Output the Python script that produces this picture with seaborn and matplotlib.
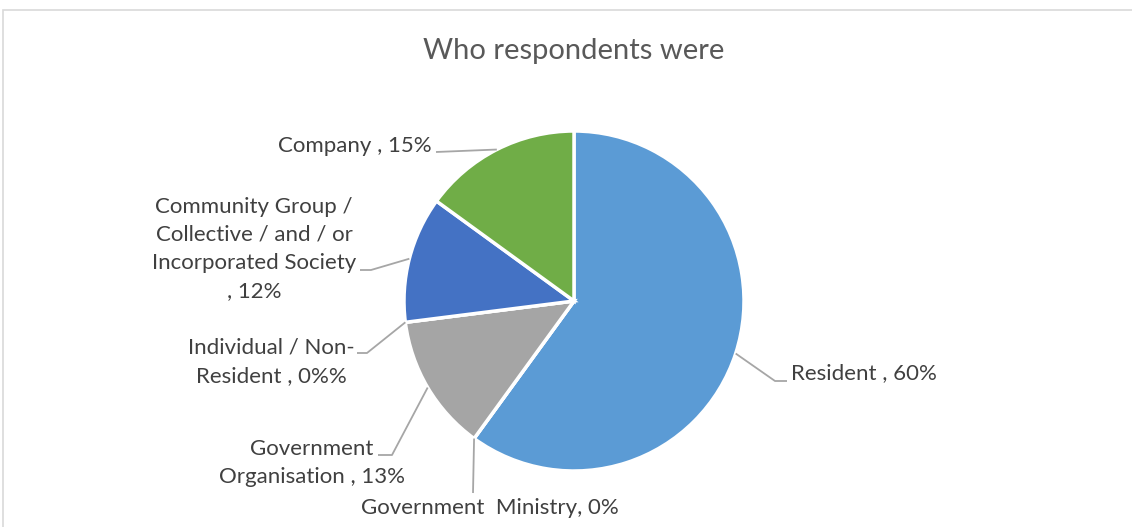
import numpy as np
import matplotlib
matplotlib.use("Agg")
import matplotlib.pyplot as plt
import seaborn as sns
from matplotlib.patches import Rectangle

# ---- data ----
categories = ["Resident", "Government  Ministry", "Government Organisation",
              "Individual / Non-Resident",
              "Community Group / Collective / and / or Incorporated Society",
              "Company"]
values = [60, 0, 13, 0, 12, 15]
label_texts = ["Resident , 60%", "Government  Ministry, 0%",
               "Government\nOrganisation , 13%", "Individual / Non-\nResident , 0%%",
               "Community Group /\nCollective / and / or\nIncorporated Society\n, 12%",
               "Company , 15%"]
colors = ["#5B9BD5", "#ED7D31", "#A5A5A5", "#FFC000", "#4472C4", "#70AD47"]
title = "Who respondents were"

sns.set_theme(style="white")
FONT = ["Lato", "DejaVu Sans"]
plt.rcParams["font.family"] = FONT

W, H = 1132, 527
fig = plt.figure(figsize=(W / 100, H / 100), dpi=100)
ax = fig.add_axes([0, 0, 1, 1])
ax.set_xlim(0, W)
ax.set_ylim(0, H)
ax.set_aspect("equal")
ax.axis("off")

def Y(y):
    return H - y

# chart border
fig.patches.append(Rectangle((3 / W, -0.1), 1.2, (H - 10) / H + 0.1,
                             transform=fig.transFigure, fill=False,
                             edgecolor="#D9D9D9", linewidth=1.2))

cx, cy, R = 574, 301, 170
wedges, _ = ax.pie(values, colors=colors, startangle=90, counterclock=False,
                   center=(cx, Y(cy)), radius=R, frame=True,
                   wedgeprops=dict(edgecolor="white", linewidth=2.5))
ax.set_xlim(0, W)
ax.set_ylim(0, H)
ax.axis("off")

# label layout: (text x, text y, ha, leader points after wedge anchor)
layout = [
    (791, 373, "left", [(775, 381), (787, 381)]),
    (490, 508, "center", [(473, 493)]),
    (312, 463, "center", [(392, 455), (378, 455)]),
    (271, 362, "center", [(367, 353), (357, 353)]),
    (254, 249, "center", [(371, 270), (360, 270)]),
    (432, 146, "right", [(436, 152)]),
]

line_col = "#A6A6A6"
for w, txt, (tx, ty, ha, pts) in zip(wedges, label_texts, layout):
    ang = np.deg2rad((w.theta1 + w.theta2) / 2)
    ax_ = cx + R * np.cos(ang)
    ay_ = Y(cy) + R * np.sin(ang)
    xs = [ax_] + [p[0] for p in pts]
    ys = [ay_] + [Y(p[1]) for p in pts]
    ax.plot(xs, ys, color=line_col, lw=1.3, solid_capstyle="butt", zorder=1)
    ax.text(tx, Y(ty), txt, ha=ha, va="center", multialignment="center",
            fontsize=16, color="#404040", linespacing=1.52)

ax.text(574, Y(51), title, ha="center", va="center", fontsize=21,
        color="#595959")

fig.savefig("out.png", dpi=100, facecolor="white")
